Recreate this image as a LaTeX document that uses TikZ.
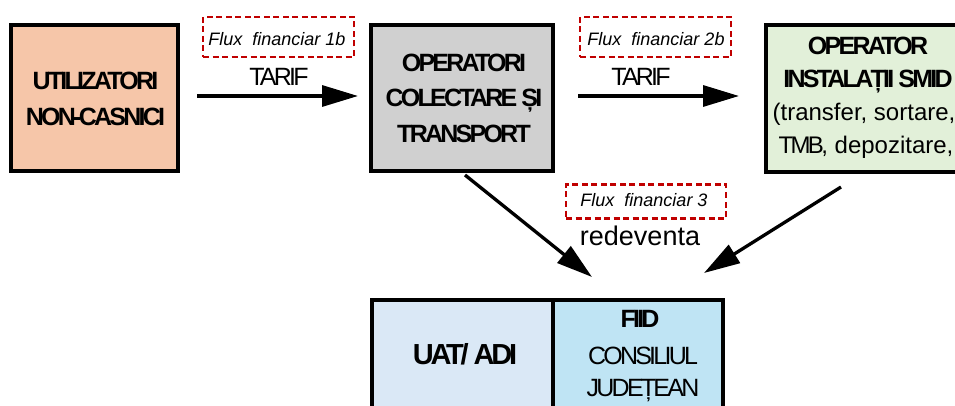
\documentclass[tikz,border=0pt]{standalone}
\usepackage{fontspec}
\setmainfont{Liberation Sans}
\newfontfamily\cfont[LetterSpace=-11]{Liberation Sans}
\usetikzlibrary{arrows.meta}
\definecolor{peach}{HTML}{F6C6A9}
\definecolor{grayf}{HTML}{D0D0D0}
\definecolor{greenf}{HTML}{E2F0D9}
\definecolor{bluel}{HTML}{DAE8F6}
\definecolor{bluer}{HTML}{BFE4F4}
\definecolor{fred}{HTML}{C00000}
\begin{document}
\begin{tikzpicture}[x=1pt,y=-1pt,
  box/.style={draw=black, line width=4pt, inner sep=0pt},
  fbox/.style={draw=fred, line width=2.2pt, dash pattern=on 6pt off 3.5pt, inner sep=0pt},
  bt/.style={font=\cfont\bfseries\fontsize{25}{28}\selectfont, inner sep=0pt, anchor=base},
  rt/.style={font=\cfont\fontsize{25}{28}\selectfont, inner sep=0pt, anchor=base},
  nt/.style={font=\fontsize{24}{28}\selectfont, inner sep=0pt, anchor=base},
  ft/.style={font=\itshape\fontsize{18}{22}\selectfont, inner sep=0pt, anchor=base},
  arr/.style={line width=3.3pt, -{Triangle[length=36pt,width=21pt]}}
]
\useasboundingbox (0,0) rectangle (955,406);
\clip (0,0) rectangle (955,406);

% boxes
\node[box, fill=peach, minimum width=167pt, minimum height=146pt] (u) at (94.7,98.5) {};
\node[box, fill=grayf, minimum width=182pt, minimum height=146pt] (o) at (462,98.5) {};
\node[box, fill=greenf, minimum width=201pt, minimum height=147pt] (s) at (866,99) {};
\node[box, fill=bluel, minimum width=181.6pt, minimum height=160pt] (uat) at (462.5,380) {};
\node[box, fill=bluer, minimum width=170pt, minimum height=160pt] (fiid) at (638.3,380) {};

% box texts
\node[bt] (u1) at (95.5,90) {UTILIZATORI};
\node[bt] (u2) at (95.5,126) {NON-CASNICI};
\node[bt] (o1) at (464,71.5) {OPERATORI};
\node[bt] (o2) at (464,106.5) {COLECTARE ȘI};
\node[bt] (o3) at (464,143) {TRANSPORT};
\node[bt] (s1) at (868,54.5) {OPERATOR};
\node[bt] (s2) at (868,88) {INSTALAȚII SMID};
\node[nt] (s3) at (864,121) {(transfer, sortare,};
\node[nt] (s4) at (866,154) {{\cfont TMB,} depozitare,};
\node[font=\cfont\bfseries\fontsize{29}{32}\selectfont, inner sep=0pt, anchor=base] (uat1) at (465,364) {UAT/ ADI};
\node[bt] (f1) at (640,327) {FIID};
\node[rt] (f2) at (643,364) {CONSILIUL};
\node[rt] (f3) at (643,396) {JUDEȚEAN};

% dashed label boxes
\node[fbox, minimum width=151pt, minimum height=40pt] (d1) at (278.5,37) {};
\node[fbox, minimum width=151pt, minimum height=40pt] (d2) at (655.5,37) {};
\node[fbox, minimum width=160pt, minimum height=34pt] (d3) at (646,201.5) {};
\node[ft] (d1t) at (277,46) {Flux\ \ financiar 1b};
\node[ft] (d2t) at (656,46) {Flux\ \ financiar 2b};
\node[ft] (d3t) at (644,206) {Flux\ \ financiar 3};

% arrow labels
\node[rt] (tar1) at (279,86) {TARIF};
\node[rt] (tar2) at (641,86) {TARIF};
\node[font=\fontsize{27}{30}\selectfont, inner sep=0pt, anchor=base] (red) at (640,245) {redeventa};

% connectors
\coordinate (a1s) at (197,96);
\coordinate (a1e) at (358,96);
\coordinate (a2s) at (578,96);
\coordinate (a2e) at (739,96);
\coordinate (a3s) at (465,175);
\coordinate (a3e) at (592,277);
\coordinate (a4s) at (841,187);
\coordinate (a4e) at (704,273);
\draw[arr] (a1s) -- (a1e);
\draw[arr] (a2s) -- (a2e);
\draw[arr] (a3s) -- (a3e);
\draw[arr] (a4s) -- (a4e);
\end{tikzpicture}
\end{document}
